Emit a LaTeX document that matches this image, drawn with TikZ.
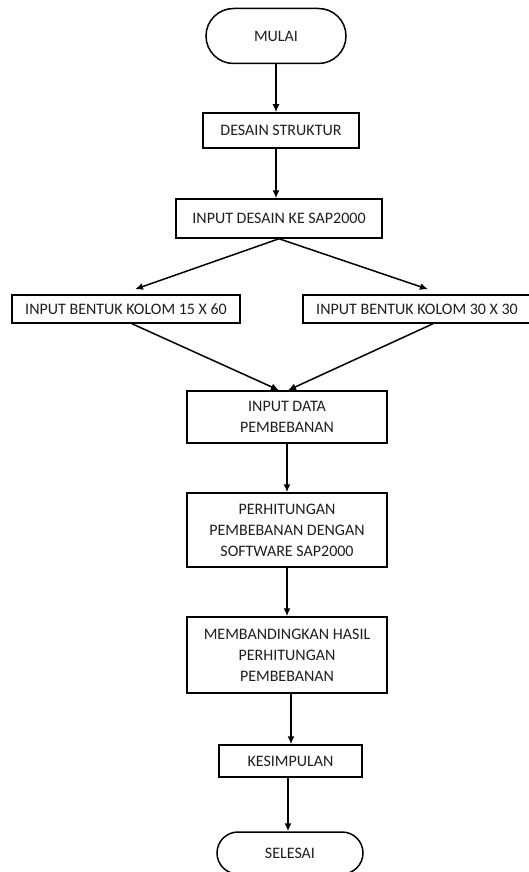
\documentclass[tikz,border=0pt]{standalone}
\usepackage{fontspec}
\setmainfont{Carlito}
\usetikzlibrary{positioning}
\usetikzlibrary{arrows.meta}
\usetikzlibrary{shapes.misc}
\definecolor{ink}{RGB}{30,30,30}

\begin{document}
\begin{tikzpicture}[x=1pt,y=1pt,
    kotak/.style={draw, line width=1.5pt, rectangle, align=center, text=ink, inner sep=2pt,
        font=\fontsize{16}{21}\selectfont},
    ujung/.style={kotak, rounded rectangle},
    panah/.style={-{Latex[length=8pt,width=7pt]}, line width=1.5pt}]
    % Fix the page size
    \useasboundingbox (0,0) rectangle (529,-872);

    % Main column
    \node[ujung, minimum width=144pt, minimum height=55pt] (mulai) at (276,-36) {MULAI};
    \node[kotak, minimum width=156pt, minimum height=35pt] (desain) at (281,-130.5) {DESAIN STRUKTUR};
    \node[kotak, minimum width=206pt, minimum height=39pt] (inputsap) at (279,-218.5) {INPUT DESAIN KE SAP2000};

% Two column shapes
\node[kotak, minimum width=228pt, minimum height=28pt] (kolom15) at (126,-309) {INPUT BENTUK KOLOM 15 X 60};
\node[kotak, minimum width=228pt, minimum height=28pt] (kolom30) at (417,-309) {INPUT BENTUK KOLOM 30 X 30};

    % Loading and results
    \node[kotak, minimum width=200pt, minimum height=52pt] (data) at (287,-417) {INPUT DATA\\PEMBEBANAN};
    \node[kotak, minimum width=200pt, minimum height=74pt] (hitung) at (287,-530) {PERHITUNGAN\\PEMBEBANAN DENGAN\\SOFTWARE SAP2000};
    \node[kotak, minimum width=200pt, minimum height=76pt] (banding) at (287,-655) {MEMBANDINGKAN HASIL\\PERHITUNGAN\\PEMBEBANAN};
    \node[kotak, minimum width=143pt, minimum height=32pt] (simpulan) at (290.5,-761) {KESIMPULAN};
    \node[ujung, minimum width=150pt, minimum height=42pt] (selesai) at (290,-853) {SELESAI};

% Arrows
\draw[panah] (mulai.south) -- (mulai.south |- desain.north);
\draw[panah] (desain.south -| mulai.south) -- (mulai.south |- inputsap.north);
\draw[panah] (inputsap.south) -- ([xshift=9pt,yshift=5pt]kolom15.north);
\draw[panah] (inputsap.south) -- ([xshift=11pt,yshift=5pt]kolom30.north);
\draw[panah] ([xshift=6pt]kolom15.south) -- ([xshift=-8pt]data.north);
\draw[panah] ([xshift=16pt]kolom30.south) -- ([xshift=1pt]data.north);
\draw[panah] (data) -- (hitung);
\draw[panah] (hitung) -- (banding);
\draw[panah] ([xshift=4pt]banding.south) -- ([xshift=4pt]banding.south |- simpulan.north);
\draw[panah] ([xshift=1pt]banding.south |- simpulan.south) -- ([xshift=1pt]banding.south |- selesai.north);

\end{tikzpicture}
\end{document}
